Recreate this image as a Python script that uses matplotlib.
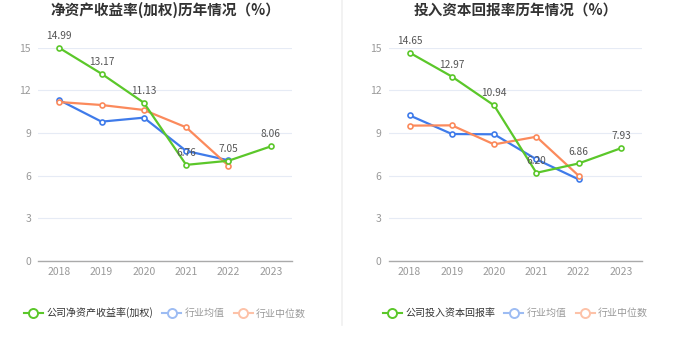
import matplotlib
matplotlib.use("Agg")
import matplotlib.pyplot as plt
from matplotlib.lines import Line2D

plt.rcParams['font.family'] = ['Noto Sans CJK SC', 'DejaVu Sans']

years = ['2018', '2019', '2020', '2021', '2022', '2023']

roe_company = [14.99, 13.17, 11.13, 6.76, 7.05, 8.06]
roe_ind_mean = [11.32, 9.80, 10.08, 7.74, 7.08]
roe_ind_median = [11.18, 10.97, 10.62, 9.40, 6.70]

roic_company = [14.65, 12.97, 10.94, 6.20, 6.86, 7.93]
roic_ind_mean = [10.24, 8.93, 8.91, 7.15, 5.74]
roic_ind_median = [9.52, 9.54, 8.20, 8.74, 6.00]

titles = ['净资产收益率(加权)历年情况（%）', '投入资本回报率历年情况（%）']
legend_names = [['公司净资产收益率(加权)', '行业均值', '行业中位数'],
                ['公司投入资本回报率', '行业均值', '行业中位数']]
yticks = [0, 3, 6, 9, 12, 15]

GREEN = '#5bc72a'
BLUE = '#3f7bea'
ORANGE = '#fb8a5c'
BLUE_L = '#9dbcf3'
ORANGE_L = '#fdc2a8'

W, H = 680, 349
fig = plt.figure(figsize=(W / 100, H / 100), dpi=100)

ax_specs = [(38, 292), (388.5, 642)]
top_px, bot_px = 47.7, 261
datasets = [(roe_company, roe_ind_mean, roe_ind_median),
            (roic_company, roic_ind_mean, roic_ind_median)]

for i, ((x0, x1), (comp, mean, med)) in enumerate(zip(ax_specs, datasets)):
    ax = fig.add_axes([x0 / W, 1 - bot_px / H, (x1 - x0) / W, (bot_px - top_px) / H])
    xs = list(range(len(years)))
    ax.plot(xs[:len(mean)], mean, color=BLUE, lw=1.6, marker='o', ms=3.6,
            mfc='white', mec=BLUE, mew=1.2, zorder=3, clip_on=False)
    ax.plot(xs[:len(med)], med, color=ORANGE, lw=1.6, marker='o', ms=3.6,
            mfc='white', mec=ORANGE, mew=1.2, zorder=3, clip_on=False)
    ax.plot(xs, comp, color=GREEN, lw=1.6, marker='o', ms=3.6,
            mfc='white', mec=GREEN, mew=1.2, zorder=4, clip_on=False)
    for x, v in zip(xs, comp):
        ax.annotate(f'{v:.2f}', (x, v), xytext=(0, 5), textcoords='offset points',
                    ha='center', va='bottom', fontsize=7.3, color='#555555',
                    zorder=5, annotation_clip=False)
    ax.set_xlim(-0.5, len(years) - 0.5)
    ax.set_ylim(0, 15)
    ax.set_xticks(xs)
    ax.set_xticklabels(years)
    ax.set_yticks(yticks)
    ax.tick_params(axis='both', length=0, labelsize=7.5, colors='#999999')
    ax.tick_params(axis='x', pad=4)
    ax.tick_params(axis='y', pad=5)
    for s in ['top', 'right', 'left']:
        ax.spines[s].set_visible(False)
    ax.spines['bottom'].set_color('#aaaaaa')
    ax.spines['bottom'].set_linewidth(1.0)
    ax.grid(axis='y', color='#e6ebf5', lw=0.8)
    ax.set_axisbelow(True)

    ax.set_title(titles[i], fontsize=10.5, fontweight='bold', color='#333333', pad=24)

    handles = [
        Line2D([], [], color=GREEN, lw=1.5, marker='o', ms=6.5, mfc='white', mec=GREEN, mew=1.4),
        Line2D([], [], color=BLUE_L, lw=1.5, marker='o', ms=6.5, mfc='white', mec=BLUE_L, mew=1.4),
        Line2D([], [], color=ORANGE_L, lw=1.5, marker='o', ms=6.5, mfc='white', mec=ORANGE_L, mew=1.4),
    ]
    leg = ax.legend(handles, legend_names[i], ncol=3, loc='center',
                    bbox_to_anchor=(0.5, -(313 - bot_px) / (bot_px - top_px)),
                    frameon=False, fontsize=7.2, handlelength=1.9, handletextpad=0.35,
                    columnspacing=0.9)
    texts = leg.get_texts()
    texts[0].set_color('#333333')
    texts[1].set_color('#999999')
    texts[2].set_color('#999999')

fig.add_artist(Line2D([341.5 / W, 341.5 / W], [1, 1 - 325 / H], color='#f0f0f0', lw=1.2))

fig.savefig('out.png', dpi=100, facecolor='white')
